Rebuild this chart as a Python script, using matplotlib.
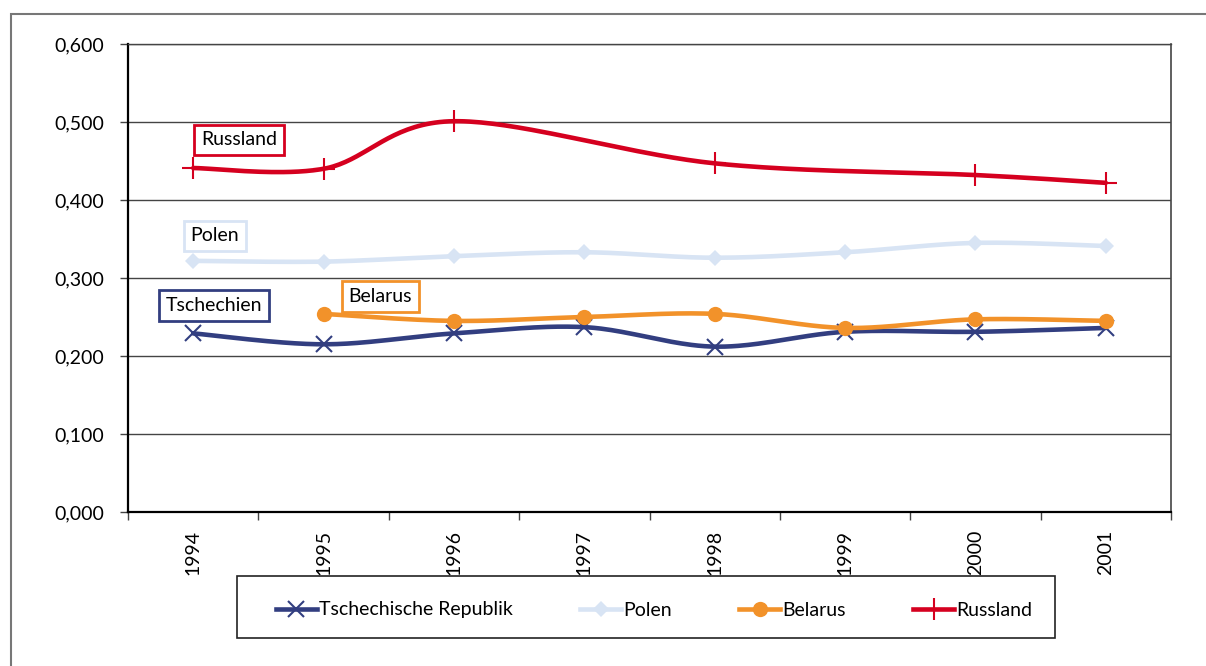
import numpy as np
import matplotlib
matplotlib.use('Agg')
import matplotlib.pyplot as plt
from matplotlib.lines import Line2D
from matplotlib.patches import Rectangle

plt.rcParams['font.family'] = ['Lato', 'DejaVu Sans']

years = ['1994', '1995', '1996', '1997', '1998', '1999', '2000', '2001']
tschechien = [0.229, 0.215, 0.229, 0.237, 0.212, 0.231, 0.231, 0.236]
polen = [0.322, 0.321, 0.328, 0.333, 0.326, 0.333, 0.345, 0.341]
belarus = [np.nan, 0.254, 0.245, 0.250, 0.254, 0.236, 0.247, 0.245]
russland = [0.441, 0.440, 0.501, np.nan, 0.447, np.nan, 0.432, 0.422]

names = ['Tschechische Republik', 'Polen', 'Belarus', 'Russland']
short = ['Tschechien', 'Polen', 'Belarus', 'Russland']
colors = ['#323e80', '#d8e4f4', '#f2922a', '#d5001f']
markers = ['x', 'D', 'o', '+']
msizes = [11, 8, 11, 16]
fs = 14


def smooth(xs, ys, n=40):
    # Excel-like smoothed line (Catmull-Rom as cubic Bezier)
    x = np.asarray(xs, float)
    y = np.asarray(ys, float)
    ok = ~np.isnan(y)
    x, y = x[ok], y[ok]
    P = np.column_stack([x, y])
    out = []
    t = np.linspace(0, 1, n)[:, None]
    for i in range(len(P) - 1):
        p0 = P[i - 1] if i > 0 else P[i]
        p1, p2 = P[i], P[i + 1]
        p3 = P[i + 2] if i + 2 < len(P) else P[i + 1]
        c1 = p1 + (p2 - p0) / 6
        c2 = p2 - (p3 - p1) / 6
        seg = (1 - t) ** 3 * p1 + 3 * (1 - t) ** 2 * t * c1 + 3 * (1 - t) * t ** 2 * c2 + t ** 3 * p2
        out.append(seg)
    out = np.vstack(out)
    return out[:, 0], out[:, 1]


fig = plt.figure(figsize=(12.06, 6.66), dpi=100)
ax = fig.add_axes([128 / 1206, 154 / 666, 1043 / 1206, 468 / 666])

# outer chart frame
fig.patches.append(Rectangle((11 / 1206, -0.05), 1.1, (652 + 33) / 666, transform=fig.transFigure,
                             fill=False, edgecolor='#777777', linewidth=1.5))
# legend frame
fig.patches.append(Rectangle((237 / 1206, 28 / 666), 818 / 1206, 62 / 666, transform=fig.transFigure,
                             fill=False, edgecolor='#222222', linewidth=1.2))

x = np.arange(len(years))
series = [tschechien, polen, belarus, russland]
order = [1, 0, 2, 3]
for i in order:
    s = series[i]
    sx, sy = smooth(x, s)
    ax.plot(sx, sy, color=colors[i], linewidth=3.3, solid_capstyle='round', zorder=3 + i)
    mew = 1.5 if markers[i] in ('x', '+') else 0
    ax.plot(x, s, linestyle='none', marker=markers[i], markersize=msizes[i],
            color=colors[i], markeredgewidth=mew, zorder=3 + i)

ax.set_xlim(-0.5, len(years) - 0.5)
ax.set_ylim(0, 0.6)
ax.set_yticks(np.arange(0, 0.61, 0.1))
ax.set_yticklabels([f'{v:.3f}'.replace('.', ',') for v in np.arange(0, 0.61, 0.1)])
ax.yaxis.grid(True, color='#444444', linewidth=1.0)
ax.set_axisbelow(True)
ax.set_xticks(x)
ax.set_xticklabels(years, rotation=90)
ax.set_xticks(np.arange(-0.5, len(years), 1), minor=True)
ax.tick_params(axis='x', which='major', length=0, pad=13, labelsize=fs)
ax.tick_params(axis='x', which='minor', length=6, direction='out', width=1, color='#444444')
ax.tick_params(axis='y', length=6, direction='out', width=1, color='#444444', pad=11, labelsize=fs)

for side in ['left', 'bottom']:
    ax.spines[side].set_linewidth(1.6)
    ax.spines[side].set_color('black')
ax.spines['top'].set_color('#444444')
ax.spines['right'].set_color('#444444')
ax.spines['top'].set_linewidth(1.0)
ax.spines['right'].set_linewidth(1.2)

# series labels in boxes
label_pos = {'Russland': (0.06, 0.477), 'Polen': (-0.02, 0.354),
             'Tschechien': (-0.21, 0.265), 'Belarus': (1.19, 0.276)}
for i, nm in enumerate(short):
    lx, ly = label_pos[nm]
    ax.text(lx, ly, nm, fontsize=fs, va='center', ha='left', color='black', zorder=10,
            bbox=dict(boxstyle='square,pad=0.35', facecolor='white', edgecolor=colors[i], linewidth=2))

handles = [Line2D([0], [0], color=colors[i], linewidth=3.3, marker=markers[i], markersize=msizes[i],
                  markeredgewidth=1.5 if markers[i] in ('x', '+') else 0) for i in range(4)]
leg = fig.legend(handles, names, loc='center', ncol=4, mode='expand',
                 bbox_to_anchor=(276 / 1206, 25 / 666, 756 / 1206, 62 / 666),
                 frameon=False, fontsize=fs,
                 handlelength=2.1, handletextpad=0.1, borderaxespad=0, borderpad=0)

fig.savefig('out.png', dpi=100)
